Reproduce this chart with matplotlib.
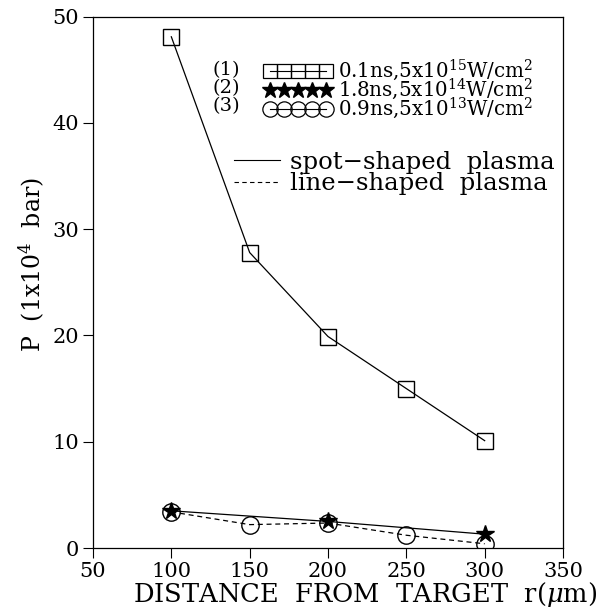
import matplotlib
matplotlib.use("Agg")
import matplotlib.pyplot as plt
from matplotlib.lines import Line2D

plt.rcParams['font.family'] = ['DejaVu Serif']
plt.rcParams['mathtext.fontset'] = 'dejavuserif'

# data
r = [100, 150, 200, 250, 300]
p_case1 = [48.1, 27.8, 19.9, 15.0, 10.1]
r_case2 = [100, 200, 300]
p_case2 = [3.5, 2.5, 1.3]
p_case3 = [3.4, 2.2, 2.35, 1.2, 0.4]

xticks = [50, 100, 150, 200, 250, 300, 350]
yticks = [0, 10, 20, 30, 40, 50]
case_labels = [r'0.1ns,5x10$^{15}$W/cm$^{2}$',
               r'1.8ns,5x10$^{14}$W/cm$^{2}$',
               r'0.9ns,5x10$^{13}$W/cm$^{2}$']
case_ids = ['(1)', '(2)', '(3)']
style_labels = ['spot\u2212shaped  plasma', 'line\u2212shaped  plasma']

W, H = 609, 608
fig = plt.figure(figsize=(W / 100, H / 100), dpi=100)
L, R, T, B = 93, 563, 16.6, 548
ax = fig.add_axes([L / W, 1 - B / H, (R - L) / W, (B - T) / H])

lw = 0.9
dash = (0, (4, 3))
ax.plot(r, p_case1, color='k', lw=lw, marker='s', ms=11.5, mfc='none', mew=1.0)
ax.plot(r, p_case3, color='k', lw=lw, ls=dash, marker='o', ms=12.5, mfc='none', mew=1.0)
ax.plot(r_case2, p_case2, color='k', lw=lw, marker='*', ms=13, mfc='k', mec='k')

ax.set_xlim(50, 350)
ax.set_ylim(0, 50)
ax.set_xticks(xticks)
ax.set_yticks(yticks)
ax.tick_params(direction='out', length=7, width=0.8, labelsize=15, pad=3)
for s in ax.spines.values():
    s.set_linewidth(0.9)

ax.set_xlabel(r'DISTANCE  FROM  TARGET  r($\mu$m)', fontsize=18.5)
ax.xaxis.set_label_coords((365 - L) / (R - L), (B - 580) / (B - T))
ax.set_ylabel(r'P  (1x10$^4$  bar)', fontsize=17)
ax.yaxis.set_label_coords((47 - L) / (R - L), (B - 265) / (B - T))

def ax_xy(px, py):
    return ((px - L) / (R - L), (B - py) / (B - T))

# legend 1: cases
h1 = [Line2D([], [], color='k', lw=0.8, marker='s', ms=10, mfc='none', mew=0.9),
      Line2D([], [], color='k', lw=0, marker='*', ms=12, mfc='k', mec='k'),
      Line2D([], [], color='k', lw=0.8, marker='o', ms=11, mfc='none', mew=0.9)]
leg1 = ax.legend(h1, case_labels, numpoints=5, handlelength=3.4, fontsize=14.3,
                 frameon=False, loc='upper left', bbox_to_anchor=ax_xy(264, 58),
                 borderpad=0, borderaxespad=0, labelspacing=-0.33, handletextpad=0.35)
ax.add_artist(leg1)
for i, t in enumerate(case_ids):
    x, y = ax_xy(226, 70 + 18 * i)
    ax.text(x, y, t, transform=ax.transAxes, fontsize=14, ha='center', va='center')

# legend 2: plasma shapes
h2 = [Line2D([], [], color='k', lw=0.8),
      Line2D([], [], color='k', lw=0.8, ls=dash)]
ax.legend(h2, style_labels, handlelength=1.9, fontsize=17.5, frameon=False,
          loc='upper left', bbox_to_anchor=ax_xy(234, 151),
          borderpad=0, borderaxespad=0, labelspacing=-0.08, handletextpad=0.4)

fig.savefig('out.png', dpi=100)
